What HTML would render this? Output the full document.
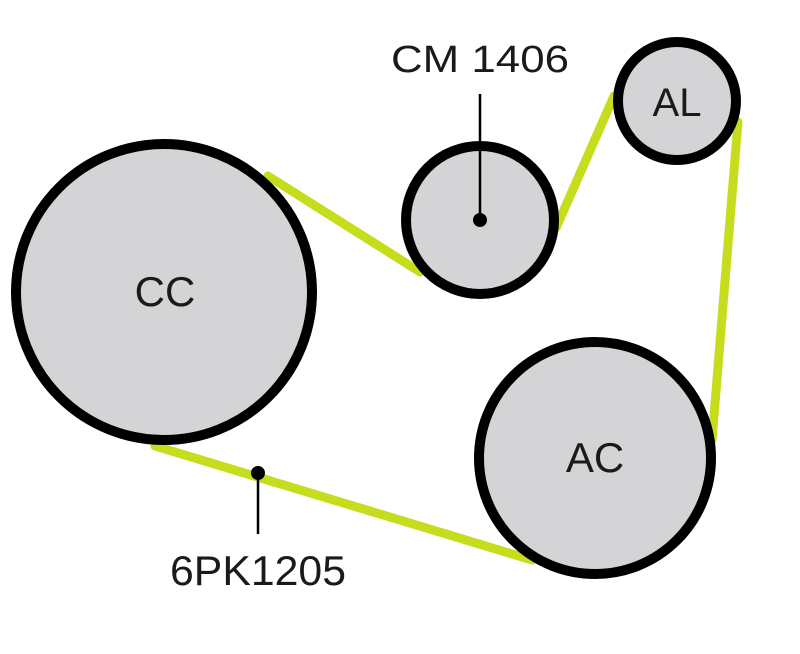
<!DOCTYPE html>
<html><head><style>body{margin:0;background:#fff}svg{display:block}</style></head>
<body>
<svg width="800" height="654" viewBox="0 0 800 654" xmlns="http://www.w3.org/2000/svg" font-family="Liberation Sans, sans-serif">
<g stroke="#c6dd1e" stroke-width="9" stroke-linecap="round">
<line x1="268" y1="176" x2="420" y2="272"/>
<line x1="556" y1="228" x2="614" y2="96"/>
<line x1="738" y1="122" x2="712" y2="440"/>
<line x1="532" y1="560" x2="155" y2="446"/>
</g>
<g fill="#d4d4d6" stroke="#000" stroke-width="10">
<circle cx="164" cy="292" r="148"/>
<circle cx="595" cy="458" r="116"/>
<circle cx="480" cy="220" r="74"/>
<circle cx="677" cy="101" r="59"/>
</g>
<line x1="480" y1="94" x2="480" y2="220" stroke="#000" stroke-width="2.5"/>
<circle cx="480" cy="220" r="7" fill="#000"/>
<line x1="258" y1="473" x2="258" y2="534" stroke="#000" stroke-width="2.5"/>
<circle cx="258" cy="473" r="7" fill="#000"/>
<g fill="#1a1a1a" text-anchor="middle">
<text x="165" y="306" font-size="42">CC</text>
<text x="595" y="472" font-size="42">AC</text>
<text x="677" y="116" font-size="40">AL</text>
<text x="480" y="72" font-size="38" textLength="178" lengthAdjust="spacingAndGlyphs">CM 1406</text>
<text x="258" y="585" font-size="42" textLength="176" lengthAdjust="spacingAndGlyphs">6PK1205</text>
</g>
</svg>
</body></html>
